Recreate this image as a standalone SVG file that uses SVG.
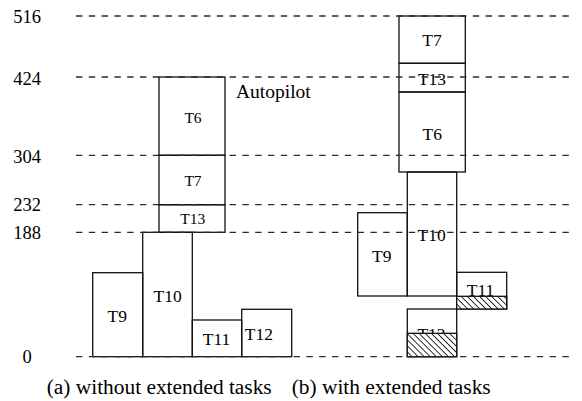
<svg xmlns="http://www.w3.org/2000/svg" width="582" height="401" viewBox="0 0 582 401">
  <style>
    .grid { stroke: #2a2a2a; stroke-width: 1.3; stroke-dasharray: 6.4 6.4; fill: none; }
    .box { fill: none; stroke: #111; stroke-width: 1.3; }
    .hatch { fill: url(#diag); stroke: #111; stroke-width: 1.3; }
    text { font-family: 'Liberation Serif', 'Tinos', 'DejaVu Serif', serif; fill: #000; }
    .axis { font-size: 18.5px; text-anchor: middle; }
    .lbl { font-size: 17.5px; text-anchor: middle; }
    .lbl.sm { font-size: 15.5px; }
    .note { font-size: 19.5px; }
    .cap { font-size: 20px; }
  </style>
  <defs>
    <pattern id="diag" patternUnits="userSpaceOnUse" width="4.3" height="4.3" patternTransform="rotate(-45)">
      <rect width="4.3" height="4.3" fill="#fff"/>
      <line x1="0" y1="0" x2="0" y2="4.3" stroke="#111" stroke-width="1.7"/>
    </pattern>
  </defs>
  <rect width="582" height="401" fill="#fff"/>

  <!-- axis values -->
  <g id="axis">
    <text class="axis" x="27" y="23">516</text>
    <text class="axis" x="27" y="84.5">424</text>
    <text class="axis" x="27" y="162.5">304</text>
    <text class="axis" x="27" y="211">232</text>
    <text class="axis" x="27" y="239">188</text>
    <text class="axis" x="27" y="363">0</text>
  </g>

  <!-- (a) without extended tasks -->
  <g id="a-T6"><rect class="box" x="159" y="77" width="66" height="78.3"/><text class="lbl sm" x="193" y="123">T6</text></g>
  <g id="a-T7"><rect class="box" x="159" y="155.3" width="66" height="49.4"/><text class="lbl sm" x="193" y="186">T7</text></g>
  <g id="a-T13"><rect class="box" x="159" y="204.7" width="66" height="27.6"/><text class="lbl sm" x="192.7" y="224.3">T13</text></g>
  <g id="a-T10"><rect class="box" x="142.7" y="232.3" width="49.6" height="124.4"/><text class="lbl" x="167.7" y="302">T10</text></g>
  <g id="a-T9"><rect class="box" x="92.7" y="272.7" width="50" height="84"/><text class="lbl" x="117.3" y="321.7">T9</text></g>
  <g id="a-T11"><rect class="box" x="192.3" y="320" width="49.4" height="36.7"/><text class="lbl" x="216.5" y="345">T11</text></g>
  <g id="a-T12"><rect class="box" x="241.7" y="309.3" width="50" height="47.4"/><text class="lbl" x="258.8" y="340">T12</text></g>
  <g id="autopilot"><text class="note" x="236" y="97.5">Autopilot</text></g>

  <!-- (b) with extended tasks -->
  <g id="b-T7"><rect class="box" x="399" y="16" width="66.3" height="47.3"/><text class="lbl" x="432" y="46">T7</text></g>
  <g id="b-T13"><rect class="box" x="399" y="63.3" width="66.3" height="28.7"/><text class="lbl" x="432" y="85">T13</text></g>
  <g id="b-T6"><rect class="box" x="399" y="92" width="66.3" height="80"/><text class="lbl" x="432.3" y="140">T6</text></g>
  <g id="b-T10"><rect class="box" x="407.3" y="172" width="49.4" height="124"/><text class="lbl" x="431.7" y="240.5">T10</text></g>
  <g id="b-T9"><rect class="box" x="357.7" y="212.7" width="49.6" height="83.3"/><text class="lbl" x="381.7" y="261.5">T9</text></g>
  <g id="b-T11">
    <rect class="box" x="456.7" y="272.3" width="50" height="36.7"/>
    <text class="lbl" x="480.5" y="296">T11</text>
    <rect class="hatch" x="456.7" y="296.3" width="50" height="12.7"/>
  </g>
  <g id="b-T12">
    <rect class="box" x="407.3" y="309" width="49.4" height="47.7"/>
    <text class="lbl" x="431.5" y="340">T12</text>
    <rect class="hatch" x="407.3" y="333.3" width="49.4" height="23.4"/>
  </g>

  <!-- time levels -->
  <g id="connectors">
    <line class="grid" x1="76" y1="16" x2="572" y2="16"/>
    <line class="grid" x1="76" y1="77" x2="572" y2="77"/>
    <line class="grid" x1="76" y1="155.3" x2="572" y2="155.3"/>
    <line class="grid" x1="76" y1="204.7" x2="572" y2="204.7"/>
    <line class="grid" x1="76" y1="232.3" x2="572" y2="232.3"/>
    <line class="grid" x1="76" y1="356.7" x2="572" y2="356.7"/>
  </g>

  <!-- captions -->
  <g id="captions">
    <text class="cap" x="46.7" y="394" textLength="225" lengthAdjust="spacingAndGlyphs">(a) without extended tasks</text>
    <text class="cap" x="291.7" y="394" textLength="199" lengthAdjust="spacingAndGlyphs">(b) with extended tasks</text>
  </g>
</svg>
